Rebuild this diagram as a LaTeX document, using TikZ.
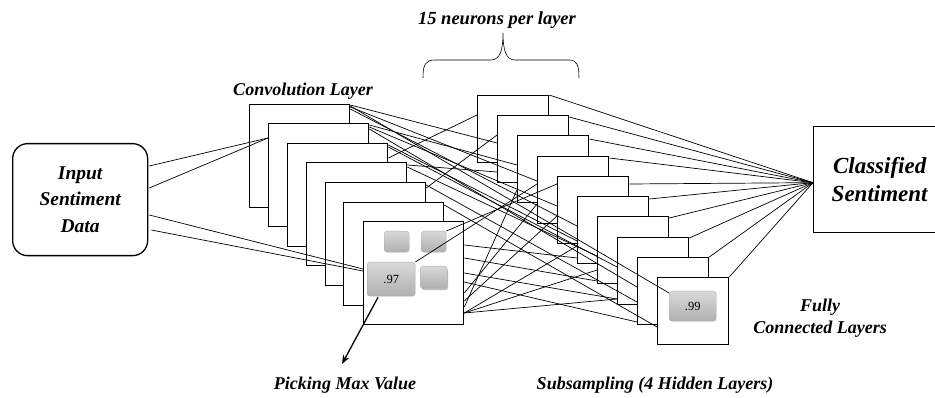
\documentclass[tikz,border=0pt]{standalone}
\usepackage{fontspec}
\setmainfont{Liberation Serif}
\usetikzlibrary{calc,shadows,arrows.meta}
\newcommand\wireline[4]{\draw[wire] ($(#1.north east)+(0,#2)$) -- ($(#3.north west)+(0,#4)$);}
\begin{document}
\begin{tikzpicture}[x=1pt,y=-1pt,
  sq/.style={draw,line width=1.3pt,fill=white,rectangle,inner sep=0pt,anchor=north west},
  conv/.style={sq,minimum width=100pt,minimum height=103pt},
  hid/.style={sq,minimum width=71pt,minimum height=67pt},
  wire/.style={line width=0.7pt},
  lbl/.style={font=\fontsize{18}{22}\selectfont\bfseries\itshape,align=center},
  pool/.style={rectangle,rounded corners=3pt,draw=gray!65,top color=gray!30,bottom color=gray!62,inner sep=0pt,anchor=north west,font=\fontsize{12.5}{14}\selectfont}
]
\useasboundingbox (0,0) rectangle (935,398);

% input box
\node[draw,line width=1.3pt,rounded corners=15pt,minimum width=135pt,minimum height=112pt,anchor=north west,inner sep=0pt,
  font=\fontsize{19.5}{26.5}\selectfont\bfseries\itshape,align=center] (in) at (12,143) {Input\\Sentiment\\Data};

% output box
\node[draw,line width=1.3pt,minimum width=132pt,minimum height=106pt,anchor=north west,inner sep=0pt,
  font=\fontsize{23}{28}\selectfont\bfseries\itshape,align=center] (out) at (813,126) {Classified\\Sentiment};

% convolution squares
\node[conv] (c1) at (249,104) {};
\node[conv] (c2) at (268,123) {};
\node[conv] (c3) at (287,143) {};
\node[conv] (c4) at (306,162) {};
\node[conv] (c5) at (325,182) {};
\node[conv] (c6) at (343,202) {};
\node[conv] (c7) at (363,221) {};

% pooling boxes
\node[pool,minimum width=25pt,minimum height=21pt] (p1) at (384,231) {};
\node[pool,minimum width=25pt,minimum height=21pt] (p2) at (421,231) {};
\node[pool,minimum width=48pt,minimum height=34pt] (p3) at (367,262) {.97};
\node[pool,minimum width=27pt,minimum height=22pt,drop shadow={shadow xshift=1pt,shadow yshift=-2pt,opacity=0.5}] (p4) at (420,266) {};

% hidden squares
\node[hid] (h1) at (477,95) {};
\node[hid] (h2) at (497,115) {};
\node[hid] (h3) at (517,135) {};
\node[hid] (h4) at (537,156) {};
\node[hid] (h5) at (557,176) {};
\node[hid] (h6) at (577,196) {};
\node[hid] (h7) at (597,216) {};
\node[hid] (h8) at (617,237) {};
\node[hid] (h9) at (637,257) {};
\node[hid] (h10) at (657,277) {};
\node[pool,minimum width=47pt,minimum height=30pt] (p9) at (669,291) {.99};

% input to convolution
\draw[wire] ($(in.north east)+(1,23)$) -- ($(c2.north west)+(0,15)$);
\draw[wire] ($(in.north east)+(1,45)$) -- ($(c2.north west)+(0,15)$);
\draw[wire] ($(in.north east)+(1,72)$) -- ($(c7.north west)+(0,48)$);
\draw[wire] ($(in.north east)+(3,87)$) -- ($(c7.north west)+(0,50)$);

% convolution to hidden
\wireline{c1}{1}{h2}{28}
\wireline{c1}{3}{h4}{25}
\wireline{c1}{5}{h6}{30}
\wireline{c1}{2}{p9}{2}
\wireline{c2}{2}{h3}{30}
\wireline{c2}{4}{h5}{30}
\wireline{c2}{6}{h9}{30}
\wireline{c3}{15}{h1}{20}
\wireline{c3}{2}{h6}{45}
\wireline{c3}{4}{h8}{30}
\wireline{c4}{3}{h2}{57}
\wireline{c4}{5}{h7}{40}
\wireline{c5}{6}{h2}{20}
\wireline{c5}{3}{h9}{45}
\wireline{c6}{3}{h10}{50}
\wireline{p2}{0}{h5}{8}
\wireline{p3}{0}{h4}{28}
\wireline{c7}{24}{h6}{62}
\wireline{c7}{37}{h7}{65}
\wireline{c7}{52}{h8}{62}
\wireline{c7}{61}{h9}{65}
\wireline{c7}{72}{h4}{48}
\wireline{c7}{80}{h5}{40}
\wireline{c7}{86}{h3}{55}
\wireline{c7}{92}{h6}{50}
\wireline{c7}{92}{h7}{54}
\wireline{c7}{92}{h8}{62}

% hidden to output
\foreach \h/\d in {h1/0,h2/2,h3/4,h4/2,h5/8,h6/3,h7/2,h8/1,h9/0,h10/0}
  \draw[wire] ($(\h.north east)+(0,\d)$) -- ($(out.west)+(0,3)$);

% brace
\draw[line width=0.6pt] (423,78) .. controls (423,65) and (425,60) .. (435,60) -- (491,60)
  .. controls (500,60) and (503,50) .. (503,33) .. controls (503,50) and (506,60) .. (515,60)
  -- (569,60) .. controls (577,60) and (579,65) .. (579,78);

% arrow
\coordinate (atip) at (342,364);
\draw[line width=1.3pt,-{Stealth[length=9pt,width=7pt]}] ($(p3.south west)+(11,1)$) -- (atip);

% labels
\node[lbl,font=\fontsize{18.5}{22}\selectfont\bfseries\itshape] (t15) at (497,20) {15 neurons per layer};
\node[lbl] (tconv) at (303,91) {Convolution Layer};
\node[lbl] (tfc) at (820,318) {Fully\\Connected Layers};
\node[lbl] (tpick) at (345,385) {Picking Max Value};
\node[lbl] (tsub) at (655,385) {Subsampling (4 Hidden Layers)};
\end{tikzpicture}
\end{document}
